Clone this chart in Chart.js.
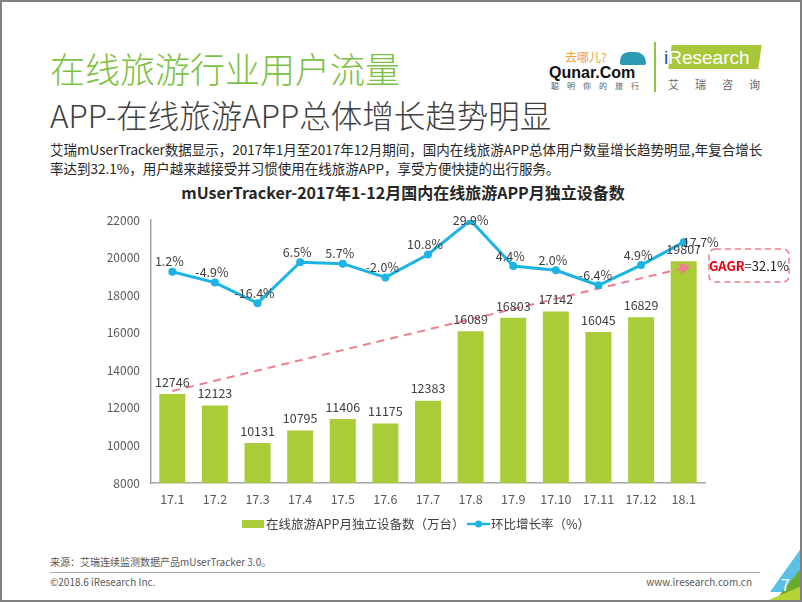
<!DOCTYPE html>
<html><head><meta charset="utf-8">
<script src="https://cdn.jsdelivr.net/npm/chart.js@4"></script>
<style>
html,body{margin:0;padding:0;background:#fff;}
#page{position:relative;width:802px;height:602px;box-sizing:border-box;border:2px solid #808080;overflow:hidden;font-family:"Noto Sans CJK SC","Noto Sans",sans-serif;}
.abs{position:absolute;white-space:nowrap;line-height:1;}
#title{left:48px;top:48px;font-size:35px;color:#7dc143;font-weight:300;}
#sub{left:48px;top:97px;font-size:31.5px;color:#404040;font-weight:300;}
#para{left:48px;top:138px;font-size:13.5px;color:#262626;line-height:19px;}
#ctitle{left:0;width:802px;text-align:center;top:182px;font-size:16px;font-weight:bold;color:#262626;}
#chartbox{position:absolute;left:100px;top:200px;width:702px;height:345px;}
#src{left:48px;top:555px;font-size:10px;color:#595959;}
#hr{left:48px;top:570px;width:710px;height:1px;background:#a6a6a6;}
#copy{left:48px;top:575px;font-size:10px;color:#595959;}
#www{right:48px;top:575px;font-size:10px;color:#595959;}
.tri{position:absolute;left:0;top:0;width:802px;height:602px;}
#pgnum{left:779px;top:574px;font-size:16px;color:#fff;}
</style></head>
<body>
<div id="page">
  <div class="abs" id="title">在线旅游行业用户流量</div>
  <div class="abs" id="sub">APP-在线旅游APP总体增长趋势明显</div>
  <div class="abs" id="para">艾瑞mUserTracker数据显示，2017年1月至2017年12月期间，国内在线旅游APP总体用户数量增长趋势明显,年复合增长<br>率达到32.1%，用户越来越接受并习惯使用在线旅游APP，享受方便快捷的出行服务。</div>
  <div class="abs" id="ctitle">mUserTracker-2017年1-12月国内在线旅游APP月独立设备数</div>

  <!-- logos -->
  <div class="abs" style="left:563px;top:49px;font-size:12px;color:#f0a030;">去哪儿?</div>
  <div class="abs" style="left:618px;top:50px;width:26px;height:13px;background:#2a9bb0;border-radius:10px 12px 3px 3px;"></div>
  <div class="abs" style="left:547px;top:63px;font-size:16px;font-weight:bold;color:#111;font-family:'Liberation Sans',Arial,sans-serif;">Qunar.Com</div>
  <div class="abs" style="left:549px;top:80px;font-size:8px;color:#555;letter-spacing:8px;">聪明你的旅行</div>
  <div class="abs" style="left:652px;top:40px;width:2px;height:50px;background:#8cc63f;"></div>
  <div class="abs" style="left:668px;top:43px;width:90px;height:24px;background:#a8c83a;transform:skewX(-8deg);"></div>
  <div class="abs" style="left:662px;top:46px;font-size:19px;color:#fff;font-family:'Liberation Sans',Arial,sans-serif;"><span style="color:#1f4e9c;">i</span>Research</div>
  <div class="abs" style="left:666px;top:77px;font-size:11px;color:#666;letter-spacing:16px;">艾瑞咨询</div>

  <div id="chartbox"><canvas id="c" width="702" height="345"></canvas></div>

  <div class="abs" id="src">来源：艾瑞连续监测数据产品mUserTracker 3.0。</div>
  <div class="abs" id="hr"></div>
  <div class="abs" id="copy">©2018.6 iResearch Inc.</div>
  <div class="abs" id="www">www.iresearch.com.cn</div>
  <div class="tri" style="background:#5bbfe8;clip-path:polygon(800px 545px,800px 590px,768px 590px);"></div>
  <div class="tri" style="background:#6aac2a;clip-path:polygon(800px 565px,800px 600px,772px 600px);"></div>
  <div class="tri" style="background:#b7d434;clip-path:polygon(800px 584px,800px 600px,762px 600px);"></div>
  <div class="abs" id="pgnum">7</div>
</div>
<script>
const categories = ["17.1","17.2","17.3","17.4","17.5","17.6","17.7","17.8","17.9","17.10","17.11","17.12","18.1"];
const devices = [12746,12123,10131,10795,11406,11175,12383,16089,16803,17142,16045,16829,19807];
const growth = [1.2,-4.9,-16.4,6.5,5.7,-2.0,10.8,29.9,4.4,2.0,-6.4,4.9,17.7];
const trendStart = 12900, trendEnd = 19450;
const yTicks = [8000,10000,12000,14000,16000,18000,20000,22000];
const barLegend = "在线旅游APP月独立设备数（万台）";
const lineLegend = "环比增长率（%）";
const gagrLabel = "GAGR", gagrValue = "=32.1%";

const FONT = '"Noto Sans CJK SC","Noto Sans",sans-serif';
const BAR = '#a9cc38', LINE = '#1db4e5', TREND = '#ec7f8e';

const trendData = categories.map((c,i)=> i===0 ? trendStart : (i===categories.length-1 ? trendEnd : null));

const labelsPlugin = {
  id:'labels',
  afterDatasetsDraw(chart){
    const ctx = chart.ctx;
    ctx.save();
    ctx.font = '12.5px ' + FONT;
    ctx.fillStyle = '#404040';
    ctx.textAlign = 'center';
    ctx.textBaseline = 'middle';
    const barMeta = chart.getDatasetMeta(2);
    barMeta.data.forEach((el,i)=>{ ctx.fillText(String(devices[i]), el.x, el.y - 12); });
    const lineMeta = chart.getDatasetMeta(0);
    lineMeta.data.forEach((el,i)=>{
      let dx=-3, dy=-10;
      if (i===7){dx=0;dy=0;}
      if (i===categories.length-1){dx=17;dy=0;}
      ctx.fillText(growth[i].toFixed(1)+'%', el.x+dx, el.y+dy);
    });
    ctx.restore();
  },
  afterDraw(chart){
    const ctx = chart.ctx;
    ctx.save();
    const bx=607, by=47, bw=80, bh=33, r=6;
    ctx.strokeStyle = TREND; ctx.lineWidth = 1.5; ctx.setLineDash([6,4]);
    ctx.beginPath(); ctx.roundRect(bx,by,bw,bh,r); ctx.stroke();
    ctx.setLineDash([]);
    ctx.textBaseline='middle'; ctx.textAlign='left';
    ctx.font = 'bold 13px ' + FONT;
    const w1 = ctx.measureText(gagrLabel).width;
    ctx.font = '13px ' + FONT;
    const w2 = ctx.measureText(gagrValue).width;
    let tx = bx + (bw - w1 - w2)/2;
    ctx.font = 'bold 13px ' + FONT; ctx.fillStyle='#e60012'; ctx.fillText(gagrLabel, tx, by+bh/2+1);
    ctx.font = '13px ' + FONT; ctx.fillStyle='#262626'; ctx.fillText(gagrValue, tx+w1, by+bh/2+1);
    const ly = 322;
    ctx.fillStyle = BAR; ctx.fillRect(140, ly-4, 22, 8);
    ctx.font = '12.5px ' + FONT; ctx.fillStyle='#404040';
    ctx.fillText(barLegend, 164, ly);
    ctx.strokeStyle = LINE; ctx.lineWidth = 2.5;
    ctx.beginPath(); ctx.moveTo(365, ly); ctx.lineTo(388, ly); ctx.stroke();
    ctx.fillStyle = LINE; ctx.beginPath(); ctx.arc(376.5, ly, 3.5, 0, Math.PI*2); ctx.fill();
    ctx.fillStyle='#404040'; ctx.fillText(lineLegend, 389, ly);
    ctx.restore();
  }
};

new Chart(document.getElementById('c'), {
  type:'bar',
  data:{
    labels: categories,
    datasets:[
      {type:'line', label:lineLegend, data:growth, yAxisID:'y1', borderColor:LINE, backgroundColor:LINE,
       borderWidth:3, pointRadius:4, pointHoverRadius:4, pointBackgroundColor:LINE, pointBorderWidth:0, tension:0, order:0},
      {type:'line', label:'trend', data:trendData, yAxisID:'y', spanGaps:true, borderColor:TREND, backgroundColor:TREND,
       borderWidth:2, borderDash:[8,6], pointRadius:categories.map((c,i)=> i===categories.length-1 ? 7 : 0),
       pointStyle:'triangle', rotation:76, pointBorderWidth:0, order:1},
      {type:'bar', label:barLegend, data:devices, yAxisID:'y', backgroundColor:BAR, barPercentage:0.61, categoryPercentage:1, order:2}
    ]
  },
  options:{
    responsive:false, animation:false, devicePixelRatio:1,
    layout:{padding:{top:17,right:99,left:0,bottom:34}},
    plugins:{legend:{display:false}, tooltip:{enabled:false}},
    scales:{
      x:{grid:{display:false,drawTicks:false}, border:{display:true,color:'#a6a6a6',width:1.5},
         ticks:{font:{family:FONT,size:12.5},color:'#595959',padding:9,maxRotation:0,autoSkip:false},
         afterFit(s){s.height=30;}},
      y:{min:8000,max:22000, grid:{display:false,drawTicks:false}, border:{display:true,color:'#a6a6a6',width:1.5},
         afterBuildTicks(s){s.ticks = yTicks.map(v=>({value:v}));},
         ticks:{font:{family:FONT,size:12},color:'#595959',padding:11,callback:(v)=>String(v)},
         afterFit(s){s.width=49;}},
      y1:{display:false,min:-117,max:30}
    }
  },
  plugins:[labelsPlugin]
});
</script>
</body></html>
